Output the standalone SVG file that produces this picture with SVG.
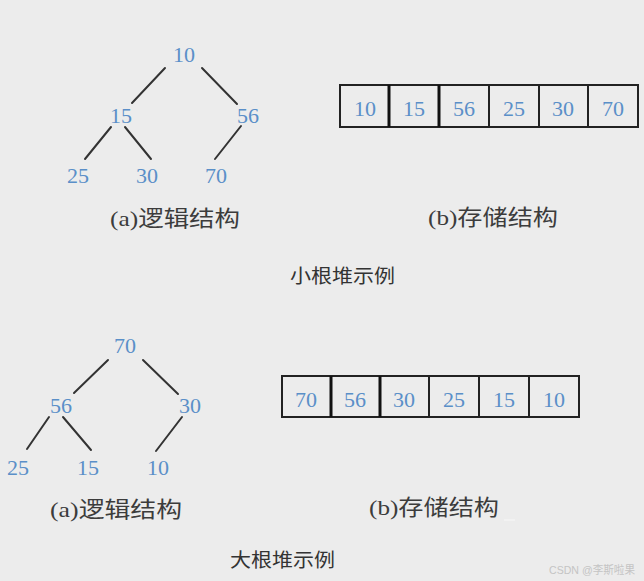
<svg xmlns="http://www.w3.org/2000/svg" width="644" height="581" viewBox="0 0 644 581">
<style>
.num{font-family:"Liberation Serif","Noto Serif",serif;font-size:22px;fill:#5a8fc8;text-anchor:middle}
.cap{font-family:"Liberation Serif","Noto Sans CJK SC",serif;font-size:22px;fill:#3c3c3c}
.title{font-family:"Noto Sans CJK SC",sans-serif;font-size:19px;fill:#333}
.edge{stroke:#333;stroke-width:2;stroke-linecap:round}
.box{fill:none;stroke:#222;stroke-width:2}
.div{stroke:#222;stroke-width:2}
.divb{stroke:#111;stroke-width:3}
.wm{font-family:"Liberation Sans","Noto Sans CJK SC",sans-serif;font-size:11px;fill:#c4c4c4}
</style>
<rect width="644" height="581" fill="#ececec"/>

<g id="connectors">
  <line class="edge" x1="165" y1="68" x2="132" y2="103"/>
  <line class="edge" x1="202" y1="68" x2="237" y2="104"/>
  <line class="edge" x1="111" y1="127" x2="85" y2="159"/>
  <line class="edge" x1="125" y1="127" x2="151" y2="159"/>
  <line class="edge" x1="241" y1="126" x2="215" y2="159"/>

  <line class="edge" x1="108" y1="360" x2="74" y2="393"/>
  <line class="edge" x1="143" y1="360" x2="178" y2="394"/>
  <line class="edge" x1="49" y1="417" x2="27" y2="449"/>
  <line class="edge" x1="63" y1="417" x2="91" y2="450"/>
  <line class="edge" x1="182" y1="417" x2="156" y2="451"/>
</g>

<g id="min-tree">
  <g id="n10a"><text class="num" x="184" y="62">10</text></g>
  <g id="n15a"><text class="num" x="121" y="123">15</text></g>
  <g id="n56a"><text class="num" x="248" y="123">56</text></g>
  <g id="n25a"><text class="num" x="78" y="183">25</text></g>
  <g id="n30a"><text class="num" x="147" y="183">30</text></g>
  <g id="n70a"><text class="num" x="216" y="183">70</text></g>
</g>
<text class="cap" x="110" y="226" textLength="130" lengthAdjust="spacingAndGlyphs">(a)逻辑结构</text>

<g id="min-array">
  <rect class="box" x="340" y="85" width="298" height="42"/>
  <line class="divb" x1="389" y1="85" x2="389" y2="127"/>
  <line class="divb" x1="439" y1="85" x2="439" y2="127"/>
  <line class="div" x1="489" y1="85" x2="489" y2="127"/>
  <line class="div" x1="539" y1="85" x2="539" y2="127"/>
  <line class="div" x1="588" y1="85" x2="588" y2="127"/>
  <text class="num" x="365" y="116">10</text>
  <text class="num" x="414" y="116">15</text>
  <text class="num" x="464" y="116">56</text>
  <text class="num" x="514" y="116">25</text>
  <text class="num" x="563" y="116">30</text>
  <text class="num" x="613" y="116">70</text>
</g>
<text class="cap" x="428" y="225" textLength="130" lengthAdjust="spacingAndGlyphs">(b)存储结构</text>
<text class="title" x="290" y="283" textLength="105" lengthAdjust="spacingAndGlyphs">小根堆示例</text>

<g id="max-tree">
  <g id="n70b"><text class="num" x="125" y="353">70</text></g>
  <g id="n56b"><text class="num" x="61" y="413">56</text></g>
  <g id="n30b"><text class="num" x="190" y="413">30</text></g>
  <g id="n25b"><text class="num" x="18" y="475">25</text></g>
  <g id="n15b"><text class="num" x="88" y="475">15</text></g>
  <g id="n10b"><text class="num" x="158" y="475">10</text></g>
</g>
<text class="cap" x="50" y="517" textLength="132" lengthAdjust="spacingAndGlyphs">(a)逻辑结构</text>

<g id="max-array">
  <rect class="box" x="282" y="376" width="297" height="41"/>
  <line class="divb" x1="331" y1="376" x2="331" y2="417"/>
  <line class="divb" x1="380" y1="376" x2="380" y2="417"/>
  <line class="div" x1="429" y1="376" x2="429" y2="417"/>
  <line class="div" x1="479" y1="376" x2="479" y2="417"/>
  <line class="div" x1="529" y1="376" x2="529" y2="417"/>
  <text class="num" x="306" y="407">70</text>
  <text class="num" x="355" y="407">56</text>
  <text class="num" x="404" y="407">30</text>
  <text class="num" x="454" y="407">25</text>
  <text class="num" x="504" y="407">15</text>
  <text class="num" x="554" y="407">10</text>
</g>
<text class="cap" x="369" y="515" textLength="130" lengthAdjust="spacingAndGlyphs">(b)存储结构</text>
<line x1="504" y1="520" x2="515" y2="520" stroke="#f8f8f8" stroke-width="1"/>
<text class="title" x="230" y="567" textLength="105" lengthAdjust="spacingAndGlyphs">大根堆示例</text>

<text class="wm" x="549" y="574" textLength="86" lengthAdjust="spacingAndGlyphs">CSDN @李斯啦果</text>
</svg>
